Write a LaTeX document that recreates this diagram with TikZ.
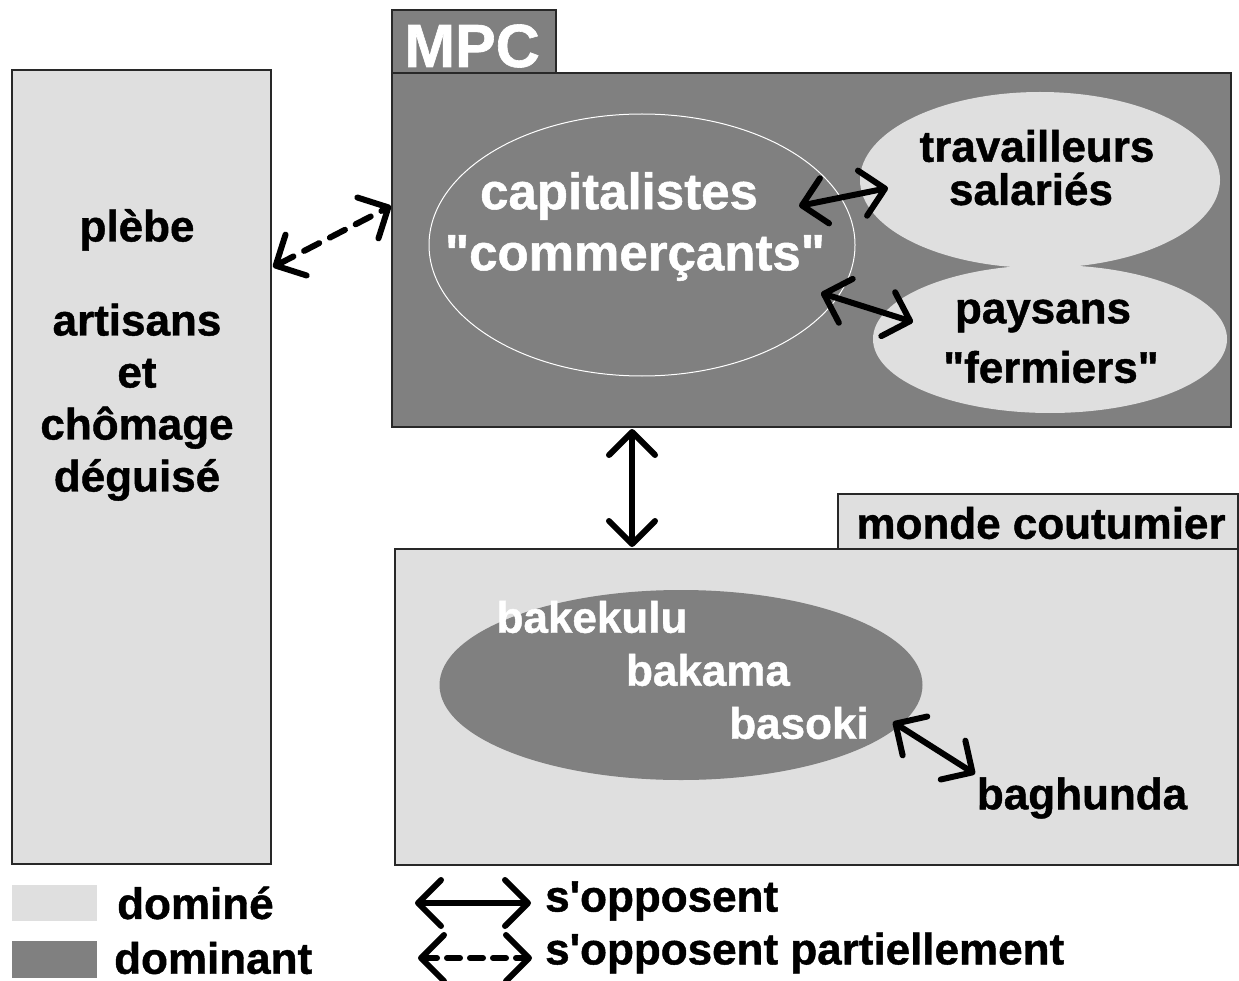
\documentclass[tikz,border=0pt]{standalone}
\usepackage{fontspec}
\newfontfamily\lab{Liberation Sans}[BoldFeatures={FakeBold=1}]
\usetikzlibrary{arrows.meta,shapes.geometric}
\definecolor{dominant}{RGB}{128,128,128}
\definecolor{domine}{RGB}{223,223,223}
\definecolor{edge}{RGB}{40,40,40}
\tikzset{barb/.tip={Straight Barb[length=23pt,width=46pt,round]}}
\begin{document}
\begin{tikzpicture}[x=1pt,y=-1pt,
  box/.style={draw=edge, line width=1.6pt, rectangle, inner sep=0pt, outer sep=0pt},
  blob/.style={ellipse, inner sep=0pt, outer sep=0pt},
  lbl/.style={font={\lab\bfseries\fontsize{44}{52}\selectfont}, inner sep=0pt},
  big/.style={font={\lab\bfseries\fontsize{51}{60}\selectfont}, inner sep=0pt},
  arr/.style={line width=6pt, line cap=round, line join=round, arrows={barb-barb}},
  darr/.style={arr, dash pattern=on 17pt off 12pt}]
\useasboundingbox[fill=white] (0,0) rectangle (1239,981);

% left box
\node[box, fill=domine, minimum width=259pt, minimum height=794pt] (plebe) at (141.5,467) {};
\node[lbl, align=center] (plebetxt) at (137,355)
  {plèbe\\[42pt]artisans\\et\\chômage\\déguisé};

% MPC
\node[box, fill=dominant, minimum width=164pt, minimum height=63pt] (mpctab) at (474,41.5) {};
\node[lbl, font={\lab\bfseries\fontsize{61}{70}\selectfont}, text=white] (mpctxt) at (472,46) {MPC};
\node[box, fill=dominant, minimum width=839pt, minimum height=354pt] (mpc) at (811.5,250) {};

\node[blob, fill=domine, minimum width=360pt, minimum height=176pt] (trav) at (1040,180) {};
\node[blob, fill=domine, minimum width=354pt, minimum height=148pt] (pays) at (1050,339) {};
\node[blob, draw=white, line width=1pt, fill=dominant, minimum width=426pt, minimum height=262pt] (cap) at (642,245) {};

\node[big, text=white] (captxt) at (619,196) {capitalistes};
\node[big, text=white] (comtxt) at (635,258) {"commerçants"};
\node[lbl] (travtxt) at (1037,146) {travailleurs};
\node[lbl] (saltxt) at (1031,189) {salariés};
\node[lbl] (paystxt) at (1043,316) {paysans};
\node[lbl] (fermtxt) at (1051,367) {"fermiers"};

% monde coutumier
\node[box, fill=domine, minimum width=400pt, minimum height=55pt] (mondetab) at (1038,521.5) {};
\node[lbl] (mondetxt) at (1041,523) {monde coutumier};
\node[box, fill=domine, minimum width=843pt, minimum height=316pt] (monde) at (816.5,707) {};
\node[blob, fill=dominant, minimum width=483pt, minimum height=190pt] (baka) at (681,685) {};
\node[lbl, text=white] (bak1) at (592,617) {bakekulu};
\node[lbl, text=white] (bak2) at (708,670) {bakama};
\node[lbl, text=white] (bak3) at (799,723) {basoki};
\node[lbl] (bagh) at (1082,798) {baghunda};

% connectors
\coordinate (capR) at (799,206);
\coordinate (travL) at (888,188);
\coordinate (capR2) at (821,293);
\coordinate (paysL) at (913,322);
\coordinate (plebeR) at (273,267);
\coordinate (mpcL) at (391,206);
\coordinate (mpcB) at (632,429);
\coordinate (mondeT) at (632,547);
\coordinate (bakR) at (893,722);
\coordinate (baghT) at (975,774);
\draw[arr] (capR) -- (travL);
\draw[arr] (capR2) -- (paysL);
\draw[darr] (plebeR) -- (mpcL);
\draw[arr] (mpcB) -- (mondeT);
\draw[arr] (bakR) -- (baghT);

% legend
\node[fill=domine, minimum width=85pt, minimum height=36pt, inner sep=0pt] (legL) at (54.5,903) {};
\node[fill=dominant, minimum width=85pt, minimum height=37pt, inner sep=0pt] (legD) at (54.5,959.5) {};
\node[lbl, anchor=west] (legLtxt) at (117,903) {dominé};
\node[lbl, anchor=west] (legDtxt) at (114,958) {dominant};
\coordinate (la1) at (415,903);
\coordinate (la2) at (531,903);
\coordinate (lb1) at (418,958);
\coordinate (lb2) at (532,958);
\draw[arr] (la1) -- (la2);
\draw[darr, dash pattern=on 13pt off 10pt] (lb1) -- (lb2);
\node[lbl, anchor=west] (opp) at (545,901) {s'opposent};
\node[lbl, anchor=west] (opp2) at (545,953) {s'opposent partiellement};
\end{tikzpicture}
\end{document}
